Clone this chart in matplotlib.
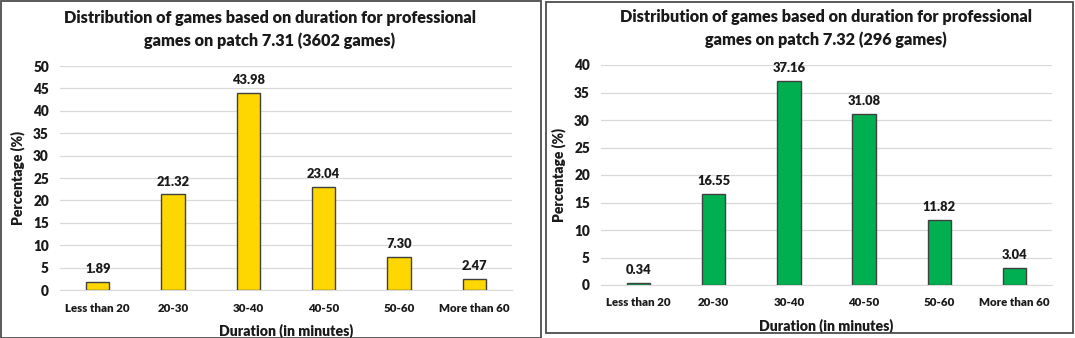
import matplotlib
matplotlib.use("Agg")
import matplotlib.pyplot as plt
from matplotlib.patches import Rectangle

categories = ["Less than 20", "20-30", "30-40", "40-50", "50-60", "More than 60"]
values_731 = [1.89, 21.32, 43.98, 23.04, 7.30, 2.47]
values_732 = [0.34, 16.55, 37.16, 31.08, 11.82, 3.04]
labels_731 = ["1.89", "21.32", "43.98", "23.04", "7.30", "2.47"]
labels_732 = ["0.34", "16.55", "37.16", "31.08", "11.82", "3.04"]
title_731 = "Distribution of games based on duration for professional\ngames on patch 7.31 (3602 games)"
title_732 = "Distribution of games based on duration for professional\ngames on patch 7.32 (296 games)"
ylim_731, yticks_731 = 50, list(range(0, 51, 5))
ylim_732, yticks_732 = 40, list(range(0, 41, 5))

W, H = 1075, 338
fig = plt.figure(figsize=(W / 100, H / 100), dpi=100)
plt.rcParams['font.family'] = ['Lato', 'DejaVu Sans']
WT = 'heavy'

def px_axes(x0, y0, x1, y1):
    return fig.add_axes([x0 / W, 1 - y1 / H, (x1 - x0) / W, (y1 - y0) / H])

# panel borders
fig.patches.append(Rectangle((1 / W, 0.5 / H), 540 / W, 337 / H, transform=fig.transFigure,
                             fill=False, edgecolor='#4d4d4d', linewidth=1.3))
fig.patches.append(Rectangle((546 / W, 5 / H), 527 / W, 331 / H, transform=fig.transFigure,
                             fill=False, edgecolor='#4d4d4d', linewidth=1.3))

def draw(ax, vals, labs, color, ymax, yticks, title, title_x, title_y):
    x = list(range(len(categories)))
    ax.bar(x, vals, width=0.31, color=color, edgecolor='#404040', linewidth=1.0, zorder=3)
    for xi, v, l in zip(x, vals, labs):
        ax.annotate(l, (xi, v), xytext=(0, 5), textcoords='offset points', ha='center',
                    va='bottom', fontsize=9.3, fontweight=WT, color='#1a1a1a')
    ax.set_xlim(-0.5, len(categories) - 0.5)
    ax.set_ylim(0, ymax)
    ax.set_yticks(yticks)
    ax.set_xticks(x)
    ax.set_xticklabels(categories, fontsize=8.3, fontweight=WT)
    for t in ax.get_yticklabels():
        t.set_fontsize(9.8)
        t.set_fontweight(WT)
    ax.tick_params(axis='both', length=0, colors='#1a1a1a')
    ax.tick_params(axis='x', pad=9)
    ax.tick_params(axis='y', pad=8)
    ax.grid(axis='y', color='#d9d9d9', linewidth=0.9, zorder=0)
    for s in ['top', 'right', 'left']:
        ax.spines[s].set_visible(False)
    ax.spines['bottom'].set_color('#d9d9d9')
    ax.set_xlabel("Duration (in minutes)", fontsize=10.2, fontweight=WT, labelpad=7, color='#1a1a1a')
    ax.set_ylabel("Percentage (%)", fontsize=10, fontweight=WT, labelpad=6, color='#1a1a1a')
    fig.text(title_x / W, 1 - title_y / H, title, ha='center', va='top', fontsize=11.7,
             fontweight=WT, color='#1a1a1a', linespacing=1.5)

ax1 = px_axes(60, 66, 512, 290)
draw(ax1, values_731, labels_731, '#FFD700', ylim_731, yticks_731, title_731, 270, 10)
ax2 = px_axes(601, 65, 1052, 285)
draw(ax2, values_732, labels_732, '#00B050', ylim_732, yticks_732, title_732, 826, 9)

fig.savefig("out.png", dpi=100)
